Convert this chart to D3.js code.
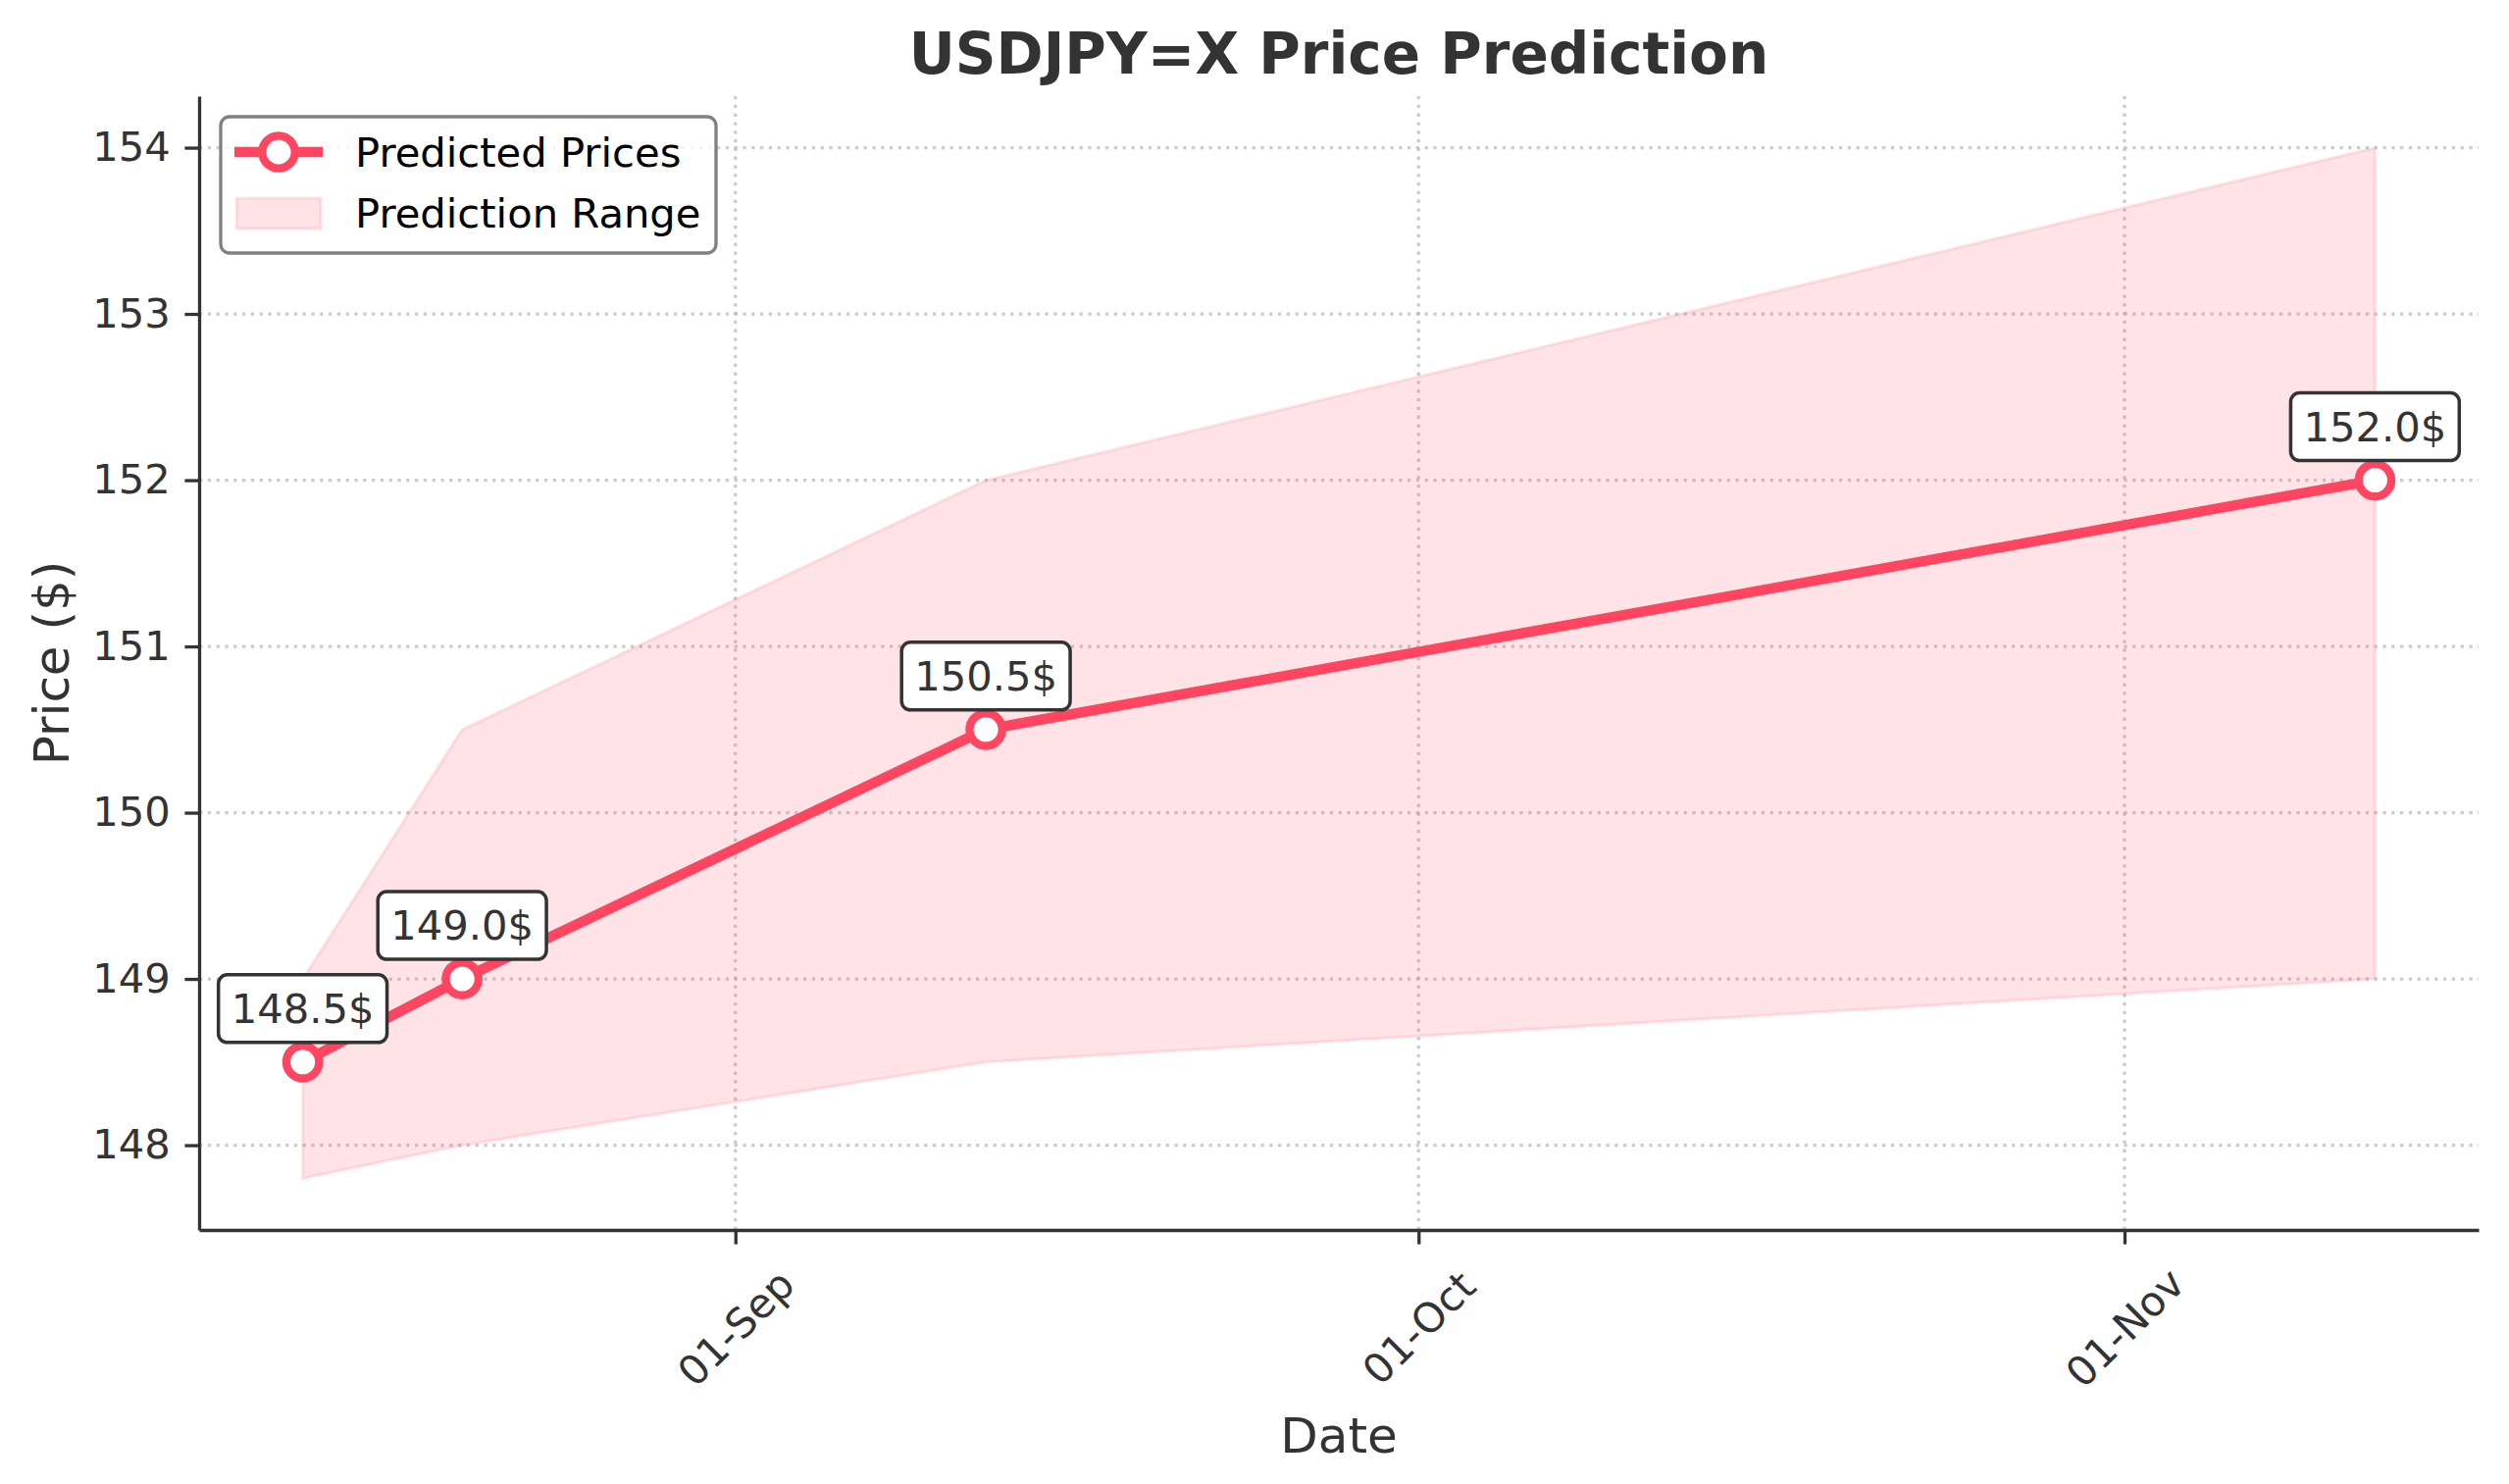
<!DOCTYPE html>
<html lang="en">
<head>
    <meta charset="UTF-8">
    <title>USDJPY=X Price Prediction</title>
    <style>
        body { margin: 0; background: #fff; }
        svg { display: block; font-family: 'DejaVu Sans', sans-serif; }
    </style>
</head>
<body>
    <svg id="svg" width="2558" height="1513"></svg>

    <script src="https://d3js.org/d3.v7.min.js"></script>
    <script>
        // data
        const dates = ['2024-08-13', '2024-08-20', '2024-09-12', '2024-11-12']
        const predicted = [148.5, 149.0, 150.5, 152.0]
        const lower = [147.8, 148.0, 148.5, 149.0]
        const upper = [149.0, 150.5, 152.0, 154.0]
        const yTicks = [148, 149, 150, 151, 152, 153, 154]
        const xTicks = ['2024-09-01', '2024-10-01', '2024-11-01']

        const parse = d3.timeParse('%Y-%m-%d')
        const data = dates.map((d, i) => ({
            date: parse(d), price: predicted[i], lo: lower[i], hi: upper[i]
        }))

        // helpers
        const color = '#ff4560'
        const fontSize = 41.7
        const plotL = 203, plotR = 2527, plotT = 98, plotB = 1254

        // matplotlib style 5% margins
        const tExtent = d3.extent(data, d => +d.date)
        const tPad = (tExtent[1] - tExtent[0]) * 0.05
        const yMin = d3.min(lower), yMax = d3.max(upper)
        const yPad = (yMax - yMin) * 0.05

        const xScale = d3.scaleTime()
            .domain([new Date(tExtent[0] - tPad), new Date(tExtent[1] + tPad)])
            .range([plotL, plotR])
        const yScale = d3.scaleLinear()
            .domain([yMin - yPad, yMax + yPad])
            .range([plotB, plotT])

        const svg = d3.select('#svg')

        // grid
        const grid = svg.append('g')
            .attr('stroke', '#b0b0b0')
            .attr('stroke-opacity', 0.65)
            .attr('stroke-width', 3.3)
            .attr('stroke-dasharray', '3.3 5.5')
        grid.selectAll('.hg')
            .data(yTicks)
            .enter()
            .append('line')
            .attr('x1', plotL).attr('x2', plotR)
            .attr('y1', d => yScale(d)).attr('y2', d => yScale(d))
        grid.selectAll('.vg')
            .data(xTicks.map(parse))
            .enter()
            .append('line')
            .attr('x1', d => xScale(d)).attr('x2', d => xScale(d))
            .attr('y1', plotT).attr('y2', plotB)

        // prediction range
        svg.append('path')
            .datum(data)
            .attr('d', d3.area()
                .x(d => xScale(d.date))
                .y0(d => yScale(d.lo))
                .y1(d => yScale(d.hi)))
            .attr('fill', color)
            .attr('fill-opacity', 0.15)
            .attr('stroke', color)
            .attr('stroke-opacity', 0.12)
            .attr('stroke-width', 3.3)

        // predicted line
        svg.append('path')
            .datum(data)
            .attr('d', d3.line()
                .x(d => xScale(d.date))
                .y(d => yScale(d.price)))
            .attr('fill', 'none')
            .attr('stroke', color)
            .attr('stroke-width', 10.4)
            .attr('stroke-linejoin', 'round')

        svg.selectAll('.pt')
            .data(data)
            .enter()
            .append('circle')
            .attr('cx', d => xScale(d.date))
            .attr('cy', d => yScale(d.price))
            .attr('r', 16.7)
            .attr('fill', '#fff')
            .attr('stroke', color)
            .attr('stroke-width', 8.3)

        // annotations
        const notes = svg.selectAll('.note')
            .data(data)
            .enter()
            .append('g')
            .attr('transform', d => `translate(${xScale(d.date)},${yScale(d.price)})`)
        notes.append('text')
            .text(d => `${d.price.toFixed(1)}$`)
            .attr('y', -40)
            .attr('text-anchor', 'middle')
            .attr('fill', '#333')
            .style('font-size', `${fontSize}px`)
            .each(function () {
                const w = this.getComputedTextLength()
                d3.select(this.parentNode).insert('rect', 'text')
                    .attr('x', -w / 2 - 13)
                    .attr('y', -89)
                    .attr('width', w + 26)
                    .attr('height', 69)
                    .attr('rx', 9)
                    .attr('fill', '#fff')
                    .attr('stroke', '#333')
                    .attr('stroke-width', 3.5)
            })

        // axes
        const yAxis = svg.append('g')
            .attr('transform', `translate(${plotL},0)`)
            .call(d3.axisLeft(yScale)
                .tickValues(yTicks)
                .tickFormat(d3.format('d'))
                .tickSize(14.6)
                .tickSizeOuter(0)
                .tickPadding(14.6))
        const xAxis = svg.append('g')
            .attr('transform', `translate(0,${plotB})`)
            .call(d3.axisBottom(xScale)
                .tickValues(xTicks.map(parse))
                .tickFormat(d3.timeFormat('%d-%b'))
                .tickSize(14.6)
                .tickSizeOuter(0))
        ;[yAxis, xAxis].forEach(a => {
            a.select('.domain').attr('stroke', '#333').attr('stroke-width', 3.3)
            a.selectAll('.tick line').attr('stroke', '#333').attr('stroke-width', 3.3)
            a.selectAll('.tick text')
                .attr('fill', '#333')
                .style('font-family', 'DejaVu Sans')
                .style('font-size', `${fontSize}px`)
        })
        xAxis.selectAll('.tick text')
            .attr('y', null).attr('dy', null)
            .attr('dominant-baseline', 'central')
            .attr('text-anchor', 'middle')
            .attr('transform', 'translate(0,100) rotate(-45)')

        // labels
        svg.append('text')
            .text('USDJPY=X Price Prediction')
            .attr('x', (plotL + plotR) / 2)
            .attr('y', 75)
            .attr('text-anchor', 'middle')
            .attr('fill', '#333')
            .style('font-weight', 'bold')
            .style('font-size', '58px')
        svg.append('text')
            .text('Date')
            .attr('x', (plotL + plotR) / 2)
            .attr('y', 1481)
            .attr('text-anchor', 'middle')
            .attr('fill', '#333')
            .style('font-size', '50px')
        svg.append('text')
            .text('Price ($)')
            .attr('transform', `translate(70,${(plotT + plotB) / 2}) rotate(-90)`)
            .attr('text-anchor', 'middle')
            .attr('fill', '#333')
            .style('font-size', '50px')

        // legend
        const legend = svg.append('g')
        legend.append('rect')
            .attr('x', 225).attr('y', 119)
            .attr('width', 505).attr('height', 139)
            .attr('rx', 9)
            .attr('fill', '#fff')
            .attr('fill-opacity', 0.8)
            .attr('stroke', '#808080')
            .attr('stroke-width', 3.3)
        legend.append('line')
            .attr('x1', 239).attr('x2', 329)
            .attr('y1', 155).attr('y2', 155)
            .attr('stroke', color)
            .attr('stroke-width', 10.4)
        legend.append('circle')
            .attr('cx', 284).attr('cy', 155)
            .attr('r', 16.7)
            .attr('fill', '#fff')
            .attr('stroke', color)
            .attr('stroke-width', 8.3)
        legend.append('rect')
            .attr('x', 241).attr('y', 202)
            .attr('width', 86).attr('height', 31)
            .attr('fill', color)
            .attr('fill-opacity', 0.15)
            .attr('stroke', color)
            .attr('stroke-opacity', 0.12)
            .attr('stroke-width', 3.3)
        legend.selectAll('.lt')
            .data(['Predicted Prices', 'Prediction Range'])
            .enter()
            .append('text')
            .text(d => d)
            .attr('x', 362)
            .attr('y', (d, i) => 170 + i * 62)
            .attr('fill', '#000')
            .style('font-size', `${fontSize}px`)
    </script>
</body>
</html>
